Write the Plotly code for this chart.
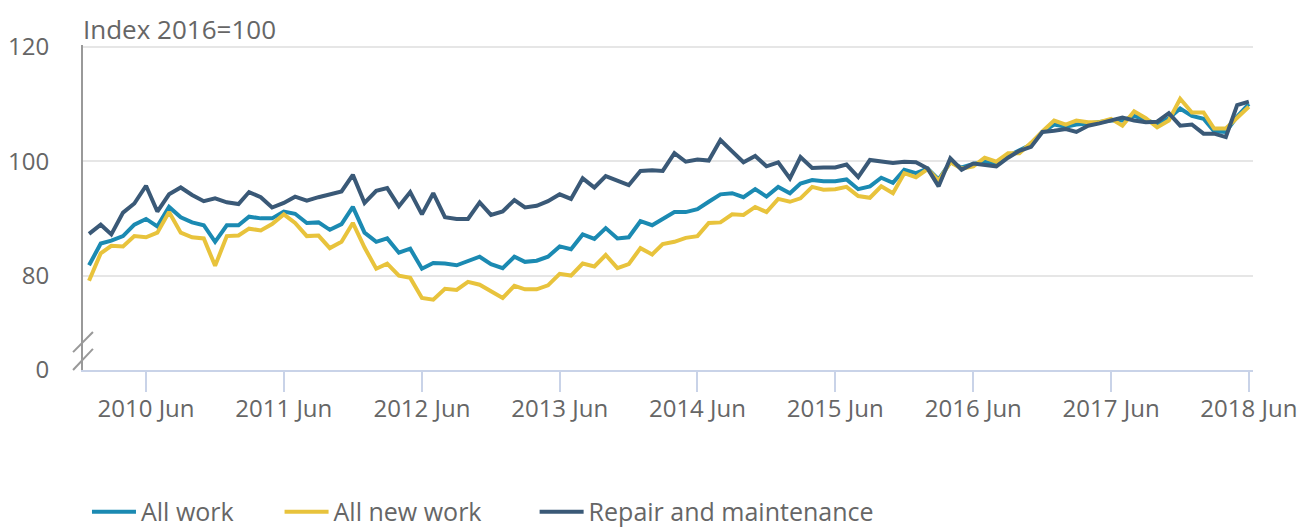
import pandas as pd
import plotly.graph_objects as go

months = pd.date_range("2010-01-01", periods=102, freq="MS")

all_work = [81.8, 85.6, 86.1, 86.9, 88.9, 89.9, 88.6, 92.0, 90.2, 89.3, 88.8, 85.9,
            88.8, 88.8, 90.3, 90.0, 90.0, 91.2, 90.8, 89.2, 89.3, 88.0, 89.0, 92.0,
            87.5, 85.9, 86.5, 84.0, 84.7, 81.2, 82.2, 82.1, 81.8, 82.6, 83.3, 82.0,
            81.3, 83.3, 82.4, 82.6, 83.3, 85.1, 84.6, 87.2, 86.4, 88.3, 86.5, 86.7,
            89.5, 88.8, 89.8, 91.1, 91.1, 91.6, 92.9, 94.2, 94.4, 93.7, 95.1, 93.8,
            95.5, 94.4, 96.1, 96.7, 96.5, 96.5, 96.8, 95.1, 95.6, 97.1, 96.2, 98.5,
            97.9, 98.7, 96.8, 99.8, 98.9, 99.5, 99.9, 99.6, 100.9, 101.8, 102.9, 105.1,
            106.4, 106.0, 106.4, 106.6, 106.8, 107.1, 107.1, 107.9, 107.2, 106.5, 107.5, 109.2,
            107.9, 107.4, 105.2, 105.1, 107.8, 110.0]

all_new_work = [79.1, 83.9, 85.2, 85.1, 86.9, 86.7, 87.5, 91.1, 87.5, 86.7, 86.5, 81.7,
                86.9, 87.0, 88.2, 87.9, 89.0, 90.7, 89.2, 86.9, 87.0, 84.8, 85.9, 89.2,
                84.9, 81.2, 82.1, 80.0, 79.6, 76.1, 75.8, 77.7, 77.5, 78.9, 78.4, 77.3,
                76.1, 78.2, 77.6, 77.6, 78.3, 80.3, 80.0, 82.1, 81.6, 83.6, 81.3, 82.0,
                84.8, 83.7, 85.5, 85.9, 86.6, 86.9, 89.2, 89.3, 90.7, 90.6, 92.0, 91.1,
                93.4, 92.9, 93.5, 95.5, 95.0, 95.1, 95.5, 93.9, 93.6, 95.6, 94.4, 97.9,
                97.2, 98.6, 96.6, 99.8, 98.7, 99.1, 100.6, 99.9, 101.4, 101.4, 103.2, 105.2,
                107.1, 106.4, 107.1, 106.8, 106.8, 107.4, 106.2, 108.7, 107.5, 105.9, 107.1, 110.9,
                108.5, 108.5, 105.7, 105.7, 107.5, 109.5]

repair = [87.3, 88.9, 87.2, 91.0, 92.6, 95.7, 91.2, 94.2, 95.4, 94.1, 93.0, 93.5,
          92.8, 92.5, 94.6, 93.7, 91.9, 92.7, 93.8, 93.1, 93.7, 94.2, 94.7, 97.6,
          92.7, 94.8, 95.3, 92.1, 94.6, 90.7, 94.4, 90.2, 89.9, 89.9, 92.8, 90.6,
          91.2, 93.2, 91.9, 92.2, 93.0, 94.2, 93.4, 97.0, 95.4, 97.4, 96.5, 95.8,
          98.3, 98.4, 98.3, 101.4, 99.9, 100.3, 100.1, 103.7, 101.7, 99.8, 100.9, 99.1,
          99.8, 97.0, 100.7, 98.8, 98.9, 98.9, 99.4, 97.2, 100.2, 99.9, 99.7, 99.9,
          99.8, 98.7, 95.6, 100.5, 98.5, 99.6, 99.4, 99.1, 100.6, 101.8, 102.5, 105.1,
          105.3, 105.6, 105.1, 106.2, 106.6, 107.2, 107.6, 107.1, 106.8, 106.9, 108.4, 106.2,
          106.4, 104.8, 104.8, 104.2, 109.8, 110.4]

series_names = ["All work", "All new work", "Repair and maintenance"]
series_colors = ["#1b8ab2", "#e8c33c", "#3a5977"]
legend_ids = ["legend", "legend2", "legend3"]
legend_x = [0.0034, 0.168, 0.386]

y_tick_vals = [63.5, 80, 100, 120]
y_tick_text = ["0", "80", "100", "120"]

FONT = "Open Sans"
GREY = "#666666"

fig = go.Figure()
for name, vals, col, lg in zip(series_names, [all_work, all_new_work, repair],
                               series_colors, legend_ids):
    fig.add_trace(go.Scatter(x=months, y=vals, name=name, mode="lines", legend=lg,
                             line=dict(color=col, width=4)))

legend_common = dict(orientation="h", xanchor="left", y=-0.366, yanchor="top",
                     font=dict(family=FONT, size=25, color=GREY),
                     itemwidth=44, bgcolor="rgba(0,0,0,0)")

# page body has an 8px default margin: figure is sized/offset to compensate
fig.update_layout(
    width=1299, height=521,
    margin=dict(l=75, r=54, t=37, b=159, autoexpand=False),
    paper_bgcolor="white", plot_bgcolor="white",
    font=dict(family=FONT, color=GREY, size=24),
    showlegend=True,
    legend=dict(x=legend_x[0], **legend_common),
    legend2=dict(x=legend_x[1], **legend_common),
    legend3=dict(x=legend_x[2], **legend_common),
    hovermode=False,
)

fig.update_xaxes(
    type="date",
    range=["2009-12-16", "2018-06-12"],
    tick0="2010-06-01", dtick="M12", tickformat="%Y %b",
    showgrid=False, zeroline=False,
    showline=True, linecolor="#c9d3e8", linewidth=2,
    ticks="outside", ticklen=20, tickwidth=2, tickcolor="#c9d3e8",
    ticklabelstandoff=-4,
    tickfont=dict(family=FONT, size=24, color=GREY),
)

fig.update_yaxes(
    range=[63.5, 120.3],
    tickmode="array", tickvals=y_tick_vals, ticktext=y_tick_text,
    showgrid=True, gridcolor="#e6e6e6", gridwidth=2,
    zeroline=False,
    showline=True, linecolor="#999999", linewidth=2,
    ticks="", ticklabelstandoff=27,
    tickfont=dict(family=FONT, size=24, color=GREY),
)

# axis-break marks
for y0, y1 in [(0.055, 0.117), (0.0, 0.065)]:
    fig.add_shape(type="line", xref="paper", yref="paper",
                  x0=-0.0085, x1=0.0085, y0=y0, y1=y1,
                  line=dict(color="#999999", width=2))

fig.add_annotation(text="Index 2016=100", xref="paper", yref="paper",
                   x=0, y=1, xanchor="left", yanchor="bottom", showarrow=False,
                   xshift=-1, yshift=-3, borderpad=0,
                   font=dict(family=FONT, size=26, color=GREY))

fig.write_html("out.html")
